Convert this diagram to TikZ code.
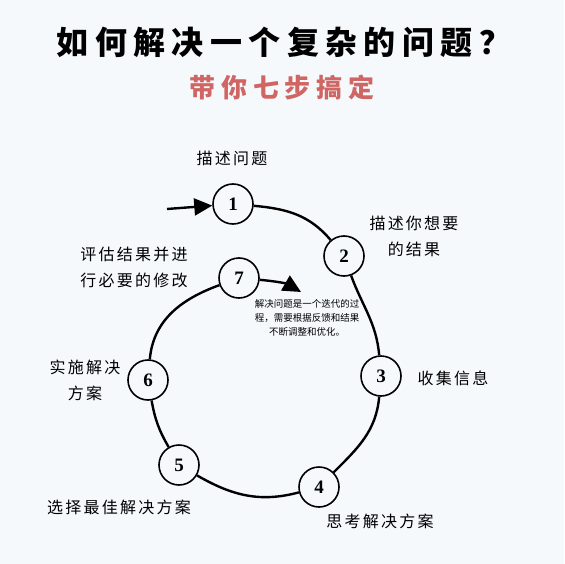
\documentclass[tikz,border=0pt]{standalone}
\usepackage{fontspec}
\newfontfamily\cjk{Noto Sans CJK SC}
\newfontfamily\numfont{Liberation Serif}
\usetikzlibrary{arrows.meta}
\definecolor{paper}{RGB}{245,249,252}
\definecolor{brick}{RGB}{208,102,100}

\begin{document}
\begin{tikzpicture}[x=1pt, y=-1pt,
  step node/.style={circle, draw, line width=1.6pt, minimum size=40pt, inner sep=0pt,
    font=\numfont\bfseries\fontsize{19}{19}\selectfont},
  label text/.style={font=\cjk\addfontfeature{LetterSpace=14}\fontsize{16}{26}\selectfont, align=center},
  loop line/.style={line width=2.4pt},
  big tip/.style={-{Triangle[length=18pt, width=17pt]}}]
\fill[paper] (0,0) rectangle (564,564);
\useasboundingbox (0,0) rectangle (564,564);

\node[font=\cjk\bfseries\addfontfeature{LetterSpace=20}\fontsize{32}{32}\selectfont] (title) at (284,42) {如何解决一个复杂的问题？};
\node[font=\cjk\bfseries\addfontfeature{LetterSpace=22}\fontsize{26}{26}\selectfont, text=brick] (subtitle) at (282,87) {带你七步搞定};

\node[step node] (c1) at (233,204) {1};
\node[step node] (c2) at (344,256) {2};
\node[step node] (c3) at (381,376) {3};
\node[step node] (c4) at (319,487) {4};
\node[step node] (c5) at (179,465) {5};
\node[step node] (c6) at (148,380) {6};
\node[step node] (c7) at (239,278) {7};

\coordinate (start) at (167,209);
\coordinate (loopend) at (301,292);

\draw[loop line, big tip] (start) -- (c1);
\draw[loop line] (c1) to[out=-5, in=130] (c2);
\draw[loop line] (c2) to[out=-70, in=95] (c3);
\draw[loop line] (c3) to[out=-95, in=45] (c4);
\draw[loop line] (c4) to[out=195, in=-30] (c5);
\draw[loop line] (c5) to[out=120, in=-80] (c6);
\draw[loop line] (c6) to[out=85, in=200] (c7);
\draw[loop line, big tip] (c7) to[out=-5, in=150] (loopend);

\node[label text] (l1) at (232,158) {描述问题};
\node[label text] (l2) at (414,236) {描述你想要\\的结果};
\node[label text] (l3) at (453,378) {收集信息};
\node[label text] (l4) at (380,521) {思考解决方案};
\node[label text] (l5) at (119,507) {选择最佳解决方案};
\node[label text] (l6) at (85,380) {实施解决\\方案};
\node[label text] (l7) at (134,267) {评估结果并进\\行必要的修改};
\node[font=\cjk\fontsize{9.5}{14}\selectfont, align=center] (note) at (307,318)
  {解决问题是一个迭代的过\\程，需要根据反馈和结果\\不断调整和优化。};
\end{tikzpicture}
\end{document}
